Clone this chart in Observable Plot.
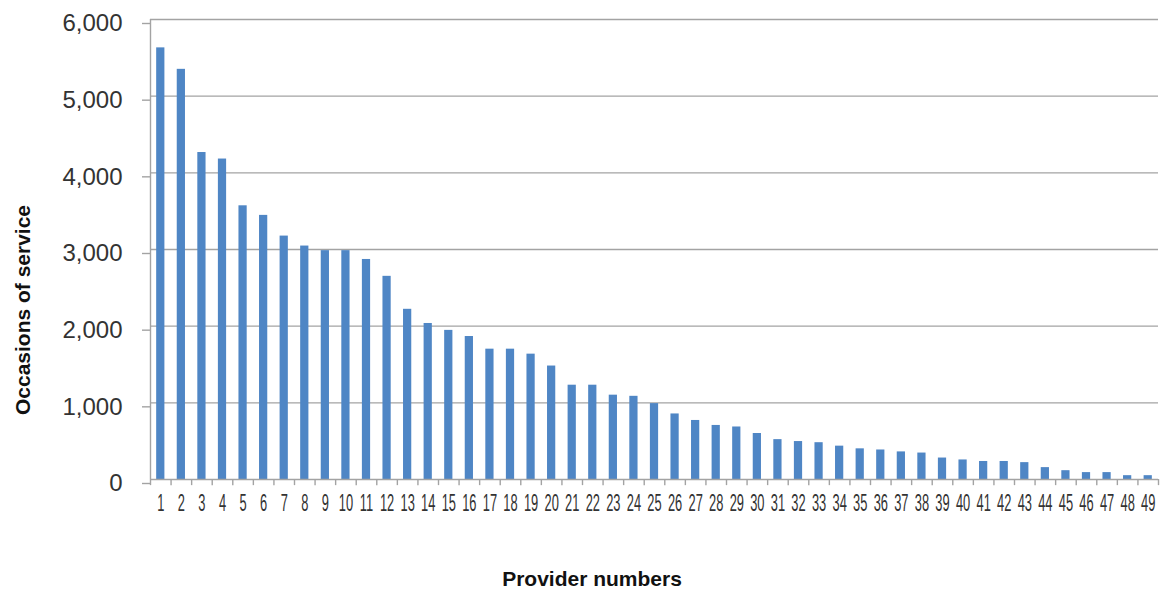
<!DOCTYPE html>
<html>
<head>
<meta charset="utf-8">
<script src="https://cdn.jsdelivr.net/npm/d3@7"></script>
<script src="https://cdn.jsdelivr.net/npm/@observablehq/plot@0.6"></script>
<style>
  html, body { margin: 0; padding: 0; background: #fff; }
  #chart svg { font-family: "Liberation Sans", Arial, sans-serif; }
</style>
</head>
<body>
<div id="chart"></div>
<script>
const providers = Array.from({length: 49}, (_, i) => String(i + 1));
const occasions = [
  5630, 5350, 4265, 4180, 3570, 3445, 3175, 3045, 2985, 2985,
  2870, 2650, 2220, 2035, 1945, 1865, 1700, 1700, 1635, 1480,
  1230, 1230, 1100, 1085, 990, 855, 770, 705, 685, 600,
  520, 495, 480, 435, 400, 385, 360, 345, 280, 255,
  235, 235, 220, 155, 115, 90, 90, 50, 50
];
const yTicks = [0, 1000, 2000, 3000, 4000, 5000, 6000];
const yTitle = "Occasions of service";
const xTitle = "Provider numbers";

const data = providers.map((p, i) => ({provider: p, value: occasions[i]}));

const W = 1164, H = 595;
const mL = 150, mR = 6, mT = 19, mB = 116;
const step = (W - mL - mR) / providers.length;
const inset = step * 0.3;

const plot = Plot.plot({
  width: W,
  height: H,
  marginLeft: mL,
  marginRight: mR,
  marginTop: mT,
  marginBottom: mB,
  x: {domain: providers, padding: 0, round: false, label: null},
  y: {domain: [0, 6000], label: null},
  marks: [
    Plot.ruleY(yTicks.slice(1), {stroke: "#a3a3a3", strokeWidth: 1.4}),
    Plot.axisY({ticks: yTicks, tickSize: 8, tickPadding: 20, tickFormat: d3.format(","),
      fontSize: 24, stroke: "#a3a3a3", strokeWidth: 1.4, fill: "#333", dy: 4, label: null}),
    Plot.barY(data, {x: "provider", y: "value", fill: "#4f86c5", insetLeft: inset, insetRight: inset}),
    Plot.ruleX(providers, {x: d => d, y1: 0, y2: -80, dx: -step / 2, stroke: "#a3a3a3", strokeWidth: 1.4}),
    Plot.ruleX([providers[providers.length - 1]], {x: d => d, y1: 0, y2: -80, dx: step / 2, stroke: "#a3a3a3", strokeWidth: 1.4}),
    Plot.ruleX([providers[0]], {x: d => d, y1: 0, y2: 6000, dx: -step / 2, stroke: "#a3a3a3", strokeWidth: 1.4}),
    Plot.ruleY([0], {stroke: "#a3a3a3", strokeWidth: 1.4}),
    Plot.axisX({tickSize: 0, tickPadding: 15, fontSize: 23, fill: "#333", label: null})
  ]
});

const svg = d3.select(plot);
// condensed x tick labels
svg.selectAll("g[aria-label='x-axis tick label'] text").each(function() {
  const t = this.getAttribute("transform") || "";
  this.setAttribute("transform", t + " scale(0.56,1)");
});
svg.append("text")
  .attr("transform", "translate(30,310) rotate(-90)")
  .attr("text-anchor", "middle")
  .attr("font-size", 21)
  .attr("font-weight", "bold")
  .attr("fill", "#111")
  .text(yTitle);
svg.append("text")
  .attr("x", 592)
  .attr("y", 586)
  .attr("text-anchor", "middle")
  .attr("font-size", 21)
  .attr("font-weight", "bold")
  .attr("fill", "#111")
  .text(xTitle);

document.getElementById("chart").appendChild(plot);
</script>
</body>
</html>
